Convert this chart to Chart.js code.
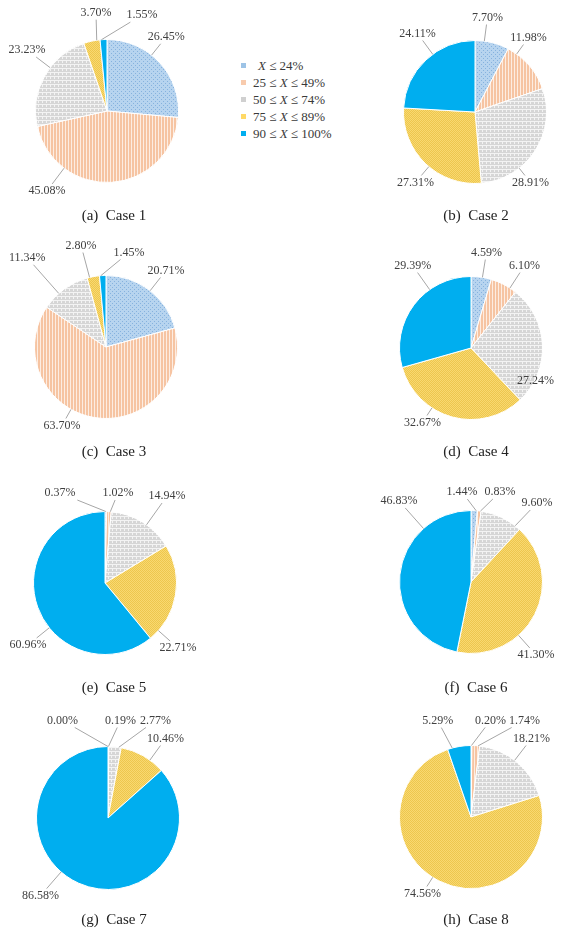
<!DOCTYPE html>
<html><head><meta charset="utf-8">
<script src="https://cdn.jsdelivr.net/npm/chart.js@4.4.0/dist/chart.umd.min.js"></script>
<style>
html,body{margin:0;padding:0;background:#fff;}
body{width:568px;height:941px;position:relative;overflow:hidden;}
canvas{position:absolute;}
.cap{position:absolute;font-family:"Liberation Serif",serif;font-size:15px;color:#222;white-space:pre;transform:translate(-50%,-50%);}
#legend{position:absolute;left:241px;top:57px;font-family:"Liberation Serif",serif;font-size:13px;color:#3a3a3a;}
#legend .row{height:17px;line-height:17px;white-space:pre;position:relative;padding-left:12px;}
#legend .mk{position:absolute;left:0;top:6px;width:5px;height:5px;}
#legend i{font-style:italic;}
</style></head><body>
<div id="legend"></div>
<script>
// ---------- data ----------
const categories = ['X ≤ 24%', '25 ≤ X ≤ 49%', '50 ≤ X ≤ 74%', '75 ≤ X ≤ 89%', '90 ≤ X ≤ 100%'];
const caseTitles = ['(a)  Case 1','(b)  Case 2','(c)  Case 3','(d)  Case 4','(e)  Case 5','(f)  Case 6','(g)  Case 7','(h)  Case 8'];
const case1 = [26.45, 45.08, 23.23, 3.70, 1.55];
const case2 = [7.70, 11.98, 28.91, 27.31, 24.11];
const case3 = [20.71, 63.70, 11.34, 2.80, 1.45];
const case4 = [4.59, 6.10, 27.24, 32.67, 29.39];
const case5 = [0.37, 1.02, 14.94, 22.71, 60.96];
const case6 = [1.44, 0.83, 9.60, 41.30, 46.83];
const case7 = [0.00, 0.19, 2.77, 10.46, 86.58];
const case8 = [0.20, 1.74, 18.21, 74.56, 5.29];
const allCases = [case1, case2, case3, case4, case5, case6, case7, case8];

// ---------- layout (not data) ----------
const pieCenters = [[107,111],[474.5,111.5],[106,346.5],[470.5,347.5],[105,583],[471,582],[107.5,817.5],[470.5,816.5]];
const captionPos = [[114,215],[476,215],[114,451],[476,451],[114,687],[476,687],[114,919],[476,919]];
// label placement: [angle from top clockwise (deg), distance from centre (px)]
const labelPlace = [
  [[38.6,95],[216.9,100],[307.3,100.6],[353.6,99],[20,102]],
  [[7.5,95.3],[35.7,91.7],[141.8,89.7],[220.2,92.3],[323.8,97.3]],
  [[38.1,97.2],[209.3,90],[318.6,119],[346.2,104.5],[13.7,97.3]],
  [[9.2,96.7],[33,98.3],[116.7,72.2],[213.1,88.9],[324.7,101]],
  [[333.4,100.6],[8.2,90.9],[35.5,106.8],[131.7,97.7],[231.2,98.9]],
  [[354.3,90.4],[17.9,94.6],[39.9,103],[138.3,97.7],[318.4,108.4]],
  [[335,107.6],[7.3,98.3],[26,108.5],[35.9,98.1],[221,102.8]],
  [[11.4,98.5],[29,110.3],[37.6,99.1],[212.4,90.6],[340.9,102]]
];

// ---------- styles ----------
function makePattern(w, h, bg, fg, cells){
  const c = document.createElement('canvas'); c.width = w; c.height = h;
  const g = c.getContext('2d');
  g.fillStyle = bg; g.fillRect(0,0,w,h);
  g.fillStyle = fg; cells.forEach(([x,y]) => g.fillRect(x,y,1,1));
  return g.createPattern(c,'repeat');
}
const fills = [
  makePattern(4,4,'#B7D4EF','#86B2DE',[[0,0],[2,2]]),
  makePattern(3,1,'#F6C4A2','#FDEDE2',[[2,0]]),
  makePattern(4,4,'#D6D6D6','#F3F3F3',[[0,3],[1,3],[2,3],[3,3],[3,0],[3,1]]),
  makePattern(2,2,'#F9D970','#EDC64E',[[0,0],[1,1]]),
  '#00AEEF'
];
const legendColors = ['#9DC3E6','#F8CBAD','#D0D0D0','#FFD966','#00AEEF'];

// legend
const lg = document.getElementById('legend');
categories.forEach((c,i) => {
  const r = document.createElement('div'); r.className = 'row';
  if (i === 0) r.style.paddingLeft = '17px';
  const m = document.createElement('span'); m.className = 'mk'; m.style.background = legendColors[i];
  r.appendChild(m);
  const parts = c.split('X');
  r.appendChild(document.createTextNode(parts[0]));
  const it = document.createElement('i'); it.textContent = 'X'; r.appendChild(it);
  r.appendChild(document.createTextNode(parts[1]));
  lg.appendChild(r);
});

const labelPlugin = {
  id: 'pctLabels',
  afterDatasetsDraw(chart, args, opts){
    const ctx = chart.ctx;
    const meta = chart.getDatasetMeta(0);
    const vals = chart.data.datasets[0].data;
    ctx.save();
    ctx.font = '12px "Liberation Serif"';
    ctx.textAlign = 'center'; ctx.textBaseline = 'middle';
    meta.data.forEach((arc, i) => {
      const p = arc.getProps(['x','y','startAngle','endAngle','outerRadius'], true);
      const [deg, dist] = opts.place[i];
      const a = (deg - 90) * Math.PI / 180;
      const lx = p.x + dist * Math.cos(a), ly = p.y + dist * Math.sin(a);
      const text = vals[i].toFixed(2) + '%';
      const w = ctx.measureText(text).width;
      if (dist > p.outerRadius + 8) {
        const span = p.endAngle - p.startAngle;
        const m = Math.min(span * 0.2, 0.08);
        let aa = Math.min(Math.max(a, p.startAngle + m), p.endAngle - m);
        if (span < 0.05) aa = (p.startAngle + p.endAngle) / 2;
        const ax = p.x + p.outerRadius * Math.cos(aa), ay = p.y + p.outerRadius * Math.sin(aa);
        const ux = ax - lx, uy = ay - ly;
        const hw = w / 2 + 2, hh = 7;
        const t = Math.min(hw / Math.max(Math.abs(ux),1e-6), hh / Math.max(Math.abs(uy),1e-6));
        ctx.strokeStyle = '#A6A6A6'; ctx.lineWidth = 1;
        ctx.beginPath(); ctx.moveTo(lx + ux * t, ly + uy * t); ctx.lineTo(ax, ay); ctx.stroke();
      }
      ctx.fillStyle = '#404040';
      ctx.fillText(text, lx, ly);
    });
    ctx.restore();
  }
};

const W = 280, H = 260;
allCases.forEach((vals, k) => {
  const cv = document.createElement('canvas');
  cv.width = W; cv.height = H;
  cv.style.left = (pieCenters[k][0] - W/2) + 'px';
  cv.style.top = (pieCenters[k][1] - H/2) + 'px';
  document.body.appendChild(cv);
  new Chart(cv, {
    type: 'pie',
    data: { labels: categories, datasets: [{ data: vals, backgroundColor: fills, borderColor: '#ffffff', borderWidth: 1 }] },
    options: {
      responsive: false, animation: false,
      layout: { padding: { left: (W-144)/2, right: (W-144)/2, top: (H-144)/2, bottom: (H-144)/2 } },
      plugins: { legend: { display: false }, tooltip: { enabled: false }, pctLabels: { place: labelPlace[k] } }
    },
    plugins: [labelPlugin]
  });
  const cap = document.createElement('div');
  cap.className = 'cap'; cap.textContent = caseTitles[k];
  cap.style.left = captionPos[k][0] + 'px'; cap.style.top = captionPos[k][1] + 'px';
  document.body.appendChild(cap);
});
</script>
</body></html>
